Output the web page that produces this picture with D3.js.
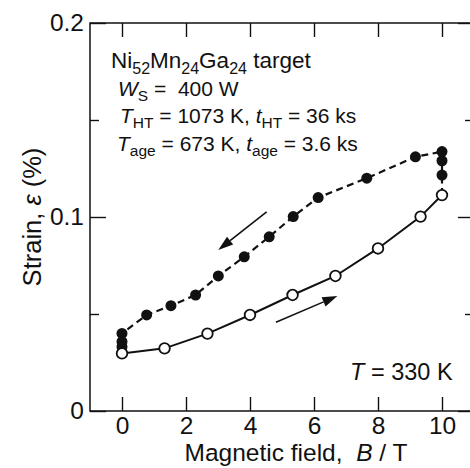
<!DOCTYPE html>
<html>
<head>
<meta charset="utf-8">
<script src="https://cdn.jsdelivr.net/npm/d3@7"></script>
<style>
html,body{margin:0;padding:0;background:#fff;}
svg{display:block;}
text{white-space:pre;}
</style>
</head>
<body>
<script>
// ---- data ----
const upField   = [0, 1.33, 2.67, 4.0, 5.33, 6.67, 8.0, 9.33, 10];
const upStrain  = [0.0297, 0.0323, 0.0399, 0.0495, 0.0598, 0.0696, 0.0838, 0.1002, 0.1113];
const downField  = [10, 10, 10, 10, 9.17, 7.65, 6.13, 5.35, 4.6, 3.82, 3.01, 2.30, 1.53, 0.77, 0, 0, 0];
const downStrain = [0.1113, 0.1216, 0.1290, 0.1337, 0.1310, 0.1200, 0.1100, 0.1002, 0.0898, 0.0795, 0.0696, 0.0598, 0.0543, 0.0495, 0.0400, 0.0357, 0.0331];
const downMarked = [false, true, true, true, true, true, true, true, true, true, true, true, true, true, true, true, true];
const xTickValues = [0, 2, 4, 6, 8, 10];
const xTickLabels = ["0", "2", "4", "6", "8", "10"];
const yTickValues = [0, 0.05, 0.1, 0.15, 0.2];
const yTickLabels = ["0", "", "0.1", "", "0.2"];
const yTickMajor  = [true, false, true, false, true];

const W = 470, H = 468;
const FONT = "'Liberation Sans', Arial, Helvetica, sans-serif";
const svg = d3.select("body").append("svg").attr("width", W).attr("height", H)
  .style("font-family", FONT);

const x = d3.scaleLinear().domain([-1, 11]).range([90, 474]);
const y = d3.scaleLinear().domain([0, 0.2]).range([411, 23]);

// frame
svg.append("rect").attr("x", x.range()[0]).attr("y", y.range()[1])
  .attr("width", x.range()[1] - x.range()[0]).attr("height", y.range()[0] - y.range()[1])
  .attr("fill", "none").attr("stroke", "#111").attr("stroke-width", 1.5);

function styleAxis(g) {
  g.select(".domain").remove();
  g.selectAll(".tick line").attr("stroke", "#111").attr("stroke-width", 1.4);
  g.selectAll(".tick text").attr("fill", "#111").style("font-family", FONT).style("font-size", "24.5px");
}

// bottom
const gB = svg.append("g").attr("transform", `translate(0,${y.range()[0]})`)
  .call(d3.axisBottom(x).tickValues(xTickValues).tickSize(-14).tickPadding(6)
    .tickFormat((d, i) => xTickLabels[i]));
styleAxis(gB);
// top
const gT = svg.append("g").attr("transform", `translate(0,${y.range()[1]})`)
  .call(d3.axisTop(x).tickValues(xTickValues).tickSize(-14).tickFormat(""));
styleAxis(gT);
// left
const gL = svg.append("g").attr("transform", `translate(${x.range()[0]},0)`)
  .call(d3.axisLeft(y).tickValues(yTickValues).tickSize(-16).tickPadding(6)
    .tickFormat((d, i) => yTickLabels[i]));
styleAxis(gL);
gL.selectAll(".tick line").attr("x2", (d, i) => yTickMajor[i] ? 16 : 9);
// right
const gR = svg.append("g").attr("transform", `translate(${x.range()[1]},0)`)
  .call(d3.axisRight(y).tickValues(yTickValues).tickSize(-16).tickFormat(""));
styleAxis(gR);
gR.selectAll(".tick line").attr("x2", (d, i) => yTickMajor[i] ? -16 : -9);

// axis titles
const xt = svg.append("text").attr("x", 296).attr("y", 461).attr("text-anchor", "middle")
  .style("font-size", "24.5px").attr("fill", "#111");
xt.append("tspan").text("Magnetic field,  ");
xt.append("tspan").attr("font-style", "italic").text("B");
xt.append("tspan").text(" / T");

const yt = svg.append("text").attr("transform", "translate(41,217) rotate(-90)")
  .attr("text-anchor", "middle").style("font-size", "25.5px").attr("fill", "#111");
yt.append("tspan").text("Strain, ");
yt.append("tspan").attr("font-style", "italic").text("ε");
yt.append("tspan").text(" (%)");

// lines
const upPts = upField.map((b, i) => [b, upStrain[i]]);
const downPts = downField.map((b, i) => [b, downStrain[i]]);
const line = d3.line().x(d => x(d[0])).y(d => y(d[1]));

svg.append("path").attr("d", line(downPts)).attr("fill", "none")
  .attr("stroke", "#111").attr("stroke-width", 2.2).attr("stroke-dasharray", "7,4.5");
svg.append("path").attr("d", line(upPts)).attr("fill", "none")
  .attr("stroke", "#111").attr("stroke-width", 2);

// markers
svg.append("g").selectAll("circle").data(downPts.filter((d, i) => downMarked[i])).join("circle")
  .attr("cx", d => x(d[0])).attr("cy", d => y(d[1])).attr("r", 5.5).attr("fill", "#111");
svg.append("g").selectAll("circle").data(upPts).join("circle")
  .attr("cx", d => x(d[0])).attr("cy", d => y(d[1])).attr("r", 5.3)
  .attr("fill", "#fff").attr("stroke", "#111").attr("stroke-width", 1.8);

// arrows
function arrow(b0, s0, b1, s1) {
  const x0 = x(b0), y0 = y(s0), x1 = x(b1), y1 = y(s1);
  const ang = Math.atan2(y1 - y0, x1 - x0);
  const L = 15, hw = 5;
  const bx = x1 - L * Math.cos(ang), by = y1 - L * Math.sin(ang);
  svg.append("line").attr("x1", x0).attr("y1", y0).attr("x2", bx).attr("y2", by)
    .attr("stroke", "#111").attr("stroke-width", 1.6);
  const px = -Math.sin(ang) * hw, py = Math.cos(ang) * hw;
  svg.append("path").attr("d", `M${x1},${y1}L${bx + px},${by + py}L${bx - px},${by - py}Z`)
    .attr("fill", "#111");
}
arrow(4.52, 0.1027, 3.01, 0.0830);
arrow(4.81, 0.0457, 6.73, 0.0593);

// annotation text
function richText(px, py, size, subSize, parts) {
  const t = svg.append("text").attr("x", px).attr("y", py).style("font-size", size + "px").attr("fill", "#111");
  let shifted = false;
  const shift = Math.round(size * 0.25);
  parts.forEach(([s, kind]) => {
    const ts = t.append("tspan").text(s);
    if (kind === "i") ts.attr("font-style", "italic");
    if (kind === "s") {
      ts.style("font-size", subSize + "px");
      if (!shifted) { ts.attr("dy", shift); shifted = true; }
    } else if (shifted) { ts.attr("dy", -shift); shifted = false; }
  });
}
richText(111, 68, 22.5, 16, [["Ni","n"],["52","s"],["Mn","n"],["24","s"],["Ga","n"],["24","s"],[" target","n"]]);
richText(118, 96, 21, 15.5, [["W","i"],["S","s"],[" =  400 W","n"]]);
richText(120, 123, 21, 15.5, [["T","i"],["HT","s"],[" = 1073 K, ","n"],["t","i"],["HT","s"],[" = 36 ks","n"]]);
richText(117, 151, 21, 15.5, [["T","i"],["age","s"],[" = 673 K, ","n"],["t","i"],["age","s"],[" = 3.6 ks","n"]]);
richText(350, 380, 23.5, 16, [["T","i"],[" = 330 K","n"]]);
</script>
</body>
</html>
